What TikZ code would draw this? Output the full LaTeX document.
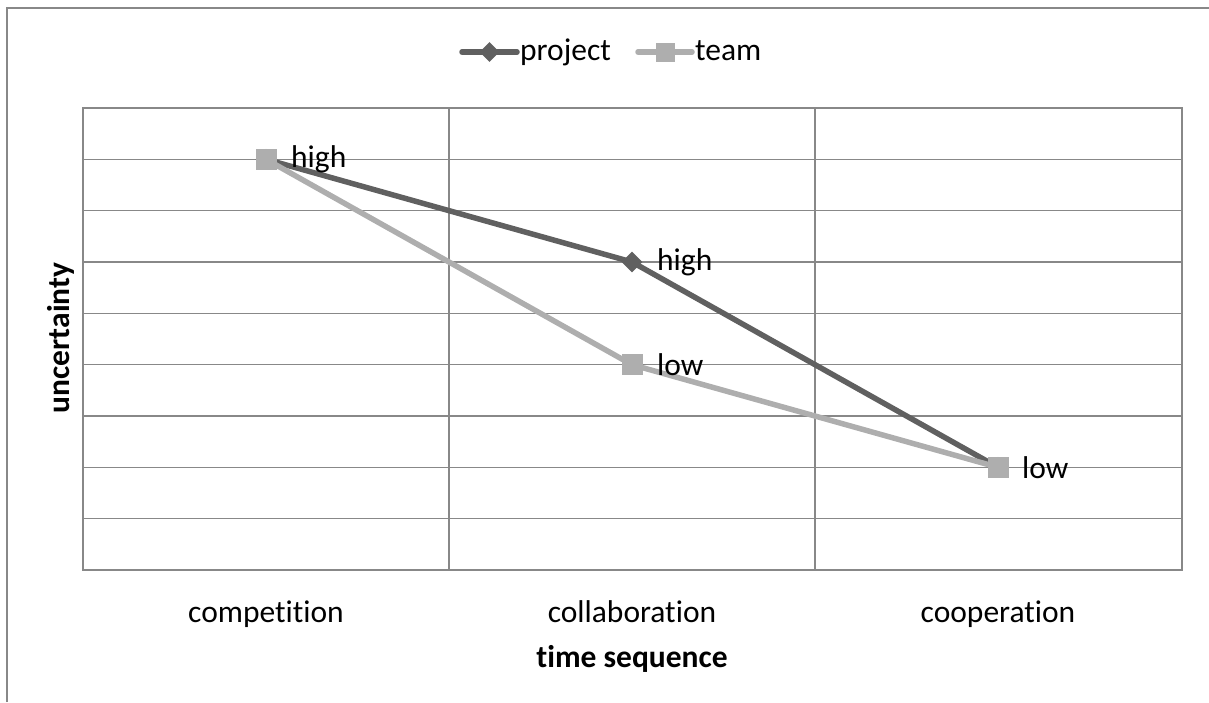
\documentclass[tikz,border=0pt]{standalone}
\usepackage{fontspec}
\setmainfont[Ligatures=NoCommon]{Carlito}
\usetikzlibrary{shapes.geometric, positioning}
\definecolor{projgray}{RGB}{96,96,96}
\definecolor{teamgray}{RGB}{174,174,174}
\definecolor{gridgray}{RGB}{136,136,136}
\tikzstyle{frameline} = [draw=gridgray, line width=2pt]
\tikzstyle{gridline} = [draw=gridgray, line width=1.5pt]
\tikzstyle{projline} = [draw=projgray, line width=5.5pt]
\tikzstyle{teamline} = [draw=teamgray, line width=5.5pt]
\tikzstyle{projmark} = [diamond, 
fill=projgray, 
inner sep=0pt, 
minimum size=21pt]
\tikzstyle{teammark} = [rectangle, 
fill=teamgray, 
inner sep=0pt, 
minimum size=21pt]
\tikzstyle{txt} = [font=\fontsize{31.5}{37}\selectfont, inner sep=0pt]
\tikzstyle{axistitle} = [font=\bfseries\fontsize{31.5}{37}\selectfont, inner sep=0pt]

\begin{document}
\begin{tikzpicture}[x=1pt, y=-1pt]
        \useasboundingbox (0,0) rectangle (1209,702);
        \draw [frameline] (7,702) -- (7,8) -- (1209,8);
        % plot area and grid
        \draw [gridline] (83,108) rectangle (1182,570);
        \draw [gridline] (449,108) -- (449,570) (815,108) -- (815,570);
        \draw [gridline] (83,159.3) -- (1182,159.3) (83,210.7) -- (1182,210.7)
            (83,262) -- (1182,262) (83,313.3) -- (1182,313.3)
            (83,364.7) -- (1182,364.7) (83,416) -- (1182,416)
            (83,467.3) -- (1182,467.3) (83,518.7) -- (1182,518.7);
        % data points
        \coordinate (p1) at (266,159.3);
        \coordinate (p2) at (632,262);
        \coordinate (p3) at (998,467.3);
        \coordinate (t1) at (266,159.3);
        \coordinate (t2) at (632,364.7);
        \coordinate (t3) at (998,467.3);
        \draw [projline] (p1) -- (p2) -- (p3);
        \node (pm1) [projmark] at (p1) {};
        \node (pm2) [projmark] at (p2) {};
        \node (pm3) [projmark] at (p3) {};
        \draw [teamline] (t1) -- (t2) -- (t3);
        \node (tm1) [teammark] at (t1) {};
        \node (tm2) [teammark] at (t2) {};
        \node (tm3) [teammark] at (t3) {};
        \node (hi1) [txt, right=25pt of t1] {high};
        \node (hi2) [txt, right=25pt of p2] {high};
        \node (lo2) [txt, right=25pt of t2] {low};
        \node (lo3) [txt, right=24pt of t3] {low};
        % legend
        \coordinate (lpa) at (462,52);
        \coordinate (lpb) at (517,52);
        \coordinate (lta) at (638,52);
        \coordinate (ltb) at (692,52);
        \draw [projline, line cap=round] (lpa) -- (lpb);
        \node (lpm) [projmark, minimum size=20pt] at (489.5,52) {};
        \node (lptxt) [txt, anchor=base west] at (520,60) {project};
        \draw [teamline, line cap=round] (lta) -- (ltb);
        \node (ltm) [teammark, minimum size=19pt] at (665,52) {};
        \node (lttxt) [txt, anchor=base west] at (695,60) {team};
        % axes
        \node (c1) [txt, anchor=base] at (266,622) {competition};
        \node (c2) [txt, anchor=base] at (632,622) {collaboration};
        \node (c3) [txt, anchor=base] at (998,622) {cooperation};
        \node (xtitle) [axistitle, anchor=base] at (632,667) {time sequence};
        \node (ytitle) [axistitle, rotate=90, anchor=base] at (69,338) {uncertainty};
    \end{tikzpicture}
\end{document}
